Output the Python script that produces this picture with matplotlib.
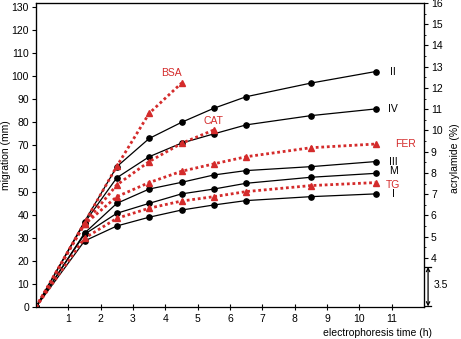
import matplotlib
matplotlib.use("Agg")
import matplotlib.pyplot as plt
import matplotlib.transforms as mtransforms

plt.rcParams['font.family'] = ['Liberation Sans', 'DejaVu Sans']

time_h = [0, 1.5, 2.5, 3.5, 4.5, 5.5, 6.5, 8.5, 10.5]
time_bsa = [0, 1.5, 2.5, 3.5, 4.5]
time_cat = [0, 1.5, 2.5, 3.5, 4.5, 5.5]

gel_II = [0, 37, 60.8, 73, 80, 86.1, 91.1, 97, 102]
gel_IV = [0, 36.5, 56, 65.1, 71, 75, 78.9, 82.9, 85.8]
gel_III = [0, 32, 44.9, 51.1, 54, 57.2, 59.1, 60.8, 63]
gel_M = [0, 31.5, 40.6, 44.9, 49, 51.1, 53.6, 56.2, 57.9]
gel_I = [0, 28.6, 35.1, 38.9, 42, 44.2, 46.1, 47.8, 49]

prot_BSA = [0, 36.5, 61, 83.9, 97]
prot_CAT = [0, 36, 52.9, 63, 70.9, 76.7]
prot_FER = [0, 35.8, 47.8, 53.9, 58.8, 62, 65.1, 69, 70.6]
prot_TG = [0, 29.8, 38.4, 42.8, 45.9, 47.8, 50, 52.6, 53.9]

black_labels = ["II", "IV", "III", "M", "I"]
red_labels = ["BSA", "CAT", "FER", "TG"]
right_ticks = [4, 5, 6, 7, 8, 9, 10, 11, 12, 13, 14, 15, 16]
left_ticks = list(range(0, 131, 10))
x_ticks = list(range(1, 12))

RED = '#d42b2b'

fig = plt.figure(figsize=(4.61, 3.39), dpi=100)
ax = fig.add_axes([36/461, 1-307/339, (424-36)/461, (307-3)/339])

def blk(y):
    ax.plot(time_h, y, color='black', lw=0.9, marker='o', ms=3.8, zorder=3)

for y in [gel_II, gel_IV, gel_III, gel_M, gel_I]:
    blk(y)

red_kw = dict(color=RED, lw=2.0, ls=(0, (1, 1)), marker='^', ms=5, zorder=4)
ax.plot(time_bsa, prot_BSA, **red_kw)
ax.plot(time_cat, prot_CAT, **red_kw)
ax.plot(time_h, prot_FER, **red_kw)
ax.plot(time_h, prot_TG, **red_kw)

fs = 7.5
ax.set_xlim(0, 12)
ax.set_ylim(0, 131.7)
ax.set_xticks(x_ticks)
ax.set_yticks(left_ticks)
ax.tick_params(axis='x', direction='inout', length=4, width=0.8, labelsize=fs, pad=3)
ax.tick_params(axis='y', direction='out', length=3, width=0.8, labelsize=fs, pad=2)
for s in ax.spines.values():
    s.set_linewidth(0.9)
ax.spines['bottom'].set_color('#555555')

# series labels
lab_x = 11.05
ax.text(lab_x, gel_II[-1], "II", fontsize=fs, va='center', ha='center')
ax.text(lab_x, gel_IV[-1], "IV", fontsize=fs, va='center', ha='center')
ax.text(lab_x, gel_III[-1], "III", fontsize=fs, va='center', ha='center')
ax.text(lab_x, gel_M[-1]+1, "M", fontsize=fs, va='center', ha='center')
ax.text(lab_x, gel_I[-1], "I", fontsize=fs, va='center', ha='center')
ax.text(lab_x+0.05, prot_FER[-1], "FER", fontsize=fs, va='center', ha='left', color=RED)
ax.text(lab_x, prot_TG[-1]-1, "TG", fontsize=fs, va='center', ha='center', color=RED)
ax.text(4.2, prot_BSA[-1]+4.5, "BSA", fontsize=fs, va='center', ha='center', color=RED)
ax.text(5.5, prot_CAT[-1]+4, "CAT", fontsize=fs, va='center', ha='center', color=RED)

fig.text(6/461, 1-155/339, "migration (mm)", fontsize=fs, rotation=90, ha='center', va='center')
fig.text(377/461, 1-333/339, "electrophoresis time (h)", fontsize=fs, ha='center', va='center')
fig.text(455/461, 1-158/339, "acrylamide (%)", fontsize=fs, rotation=90, ha='center', va='center')

ax2 = ax.twinx()
ax2.set_ylim(1.694, 16.0)
ax2.set_yticks(right_ticks)
ax2.set_yticks([v + 0.5 for v in right_ticks[:-1]], minor=True)
ax2.tick_params(axis='y', which='major', direction='out', length=3, width=0.8, labelsize=fs, pad=2)
ax2.tick_params(axis='y', which='minor', direction='out', length=1.5, width=0.6)

trans = mtransforms.blended_transform_factory(ax2.transAxes, ax2.transData)
ax2.annotate("", xy=(1.0105, 1.72), xytext=(1.0105, 3.58), xycoords=trans, textcoords=trans,
             arrowprops=dict(arrowstyle='<->', lw=0.9, color='black', mutation_scale=6,
                             shrinkA=0, shrinkB=0), annotation_clip=False)
for yv in [1.72, 3.58]:
    ax2.plot([1.0035, 1.0175], [yv, yv], transform=trans, color='black', lw=0.9, clip_on=False)
ax2.text(1.024, 2.73, "3.5", transform=trans, fontsize=fs, va='center', ha='left')

fig.savefig("out.png", dpi=100)
